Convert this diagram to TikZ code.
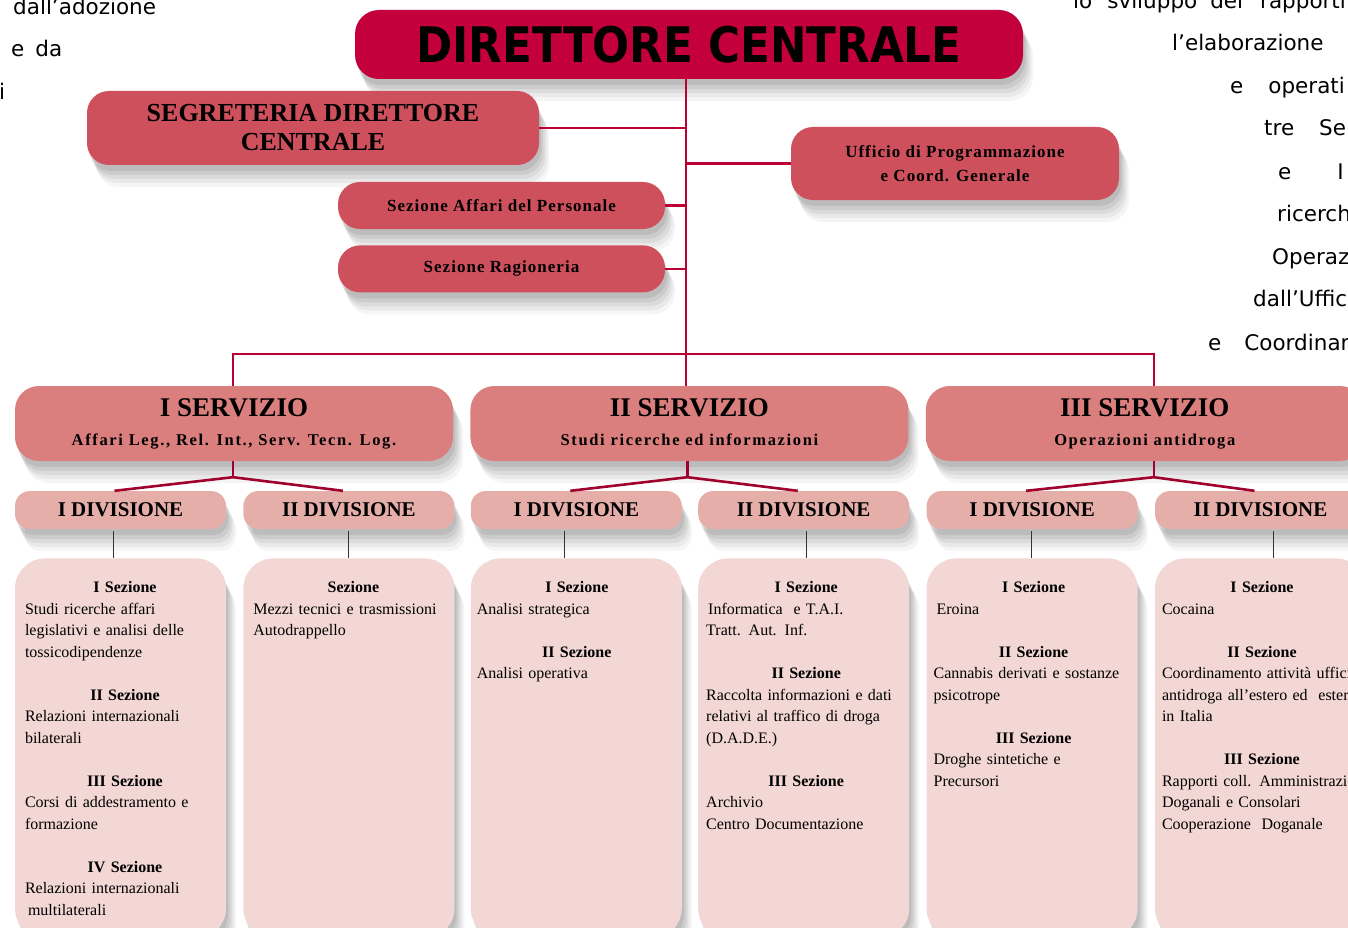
\documentclass[tikz,border=0pt]{standalone}
\usepackage{fontspec}
\setmainfont{Liberation Serif}
\newfontfamily\titlefont[FakeStretch=0.89]{DejaVu Sans}
\newfontfamily\pagefont{DejaVu Sans}
\newfontfamily\servsubfont[LetterSpace=10]{Liberation Serif}
\newfontfamily\staffsubfont[LetterSpace=6]{Liberation Serif}
\usetikzlibrary{positioning,shadows}
\definecolor{dcred}{HTML}{C4003C}
\definecolor{dcstaff}{HTML}{CD505C}
\definecolor{dcserv}{HTML}{DA7F7D}
\definecolor{dcdiv}{HTML}{E6AEA9}
\definecolor{dcsez}{HTML}{F2D7D4}
\definecolor{dcline}{HTML}{BC0034}

% section headings inside the lower boxes
\newcommand{\firsthead}[1]{{\centering\bfseries #1\par}}
\newcommand{\nexthead}[1]{\par\vspace{\baselineskip}{\centering\bfseries #1\par}}

\begin{document}
\begin{tikzpicture}[
        x=1pt, y=-1pt,
        boxshadow/.style={
            drop shadow={shadow xshift=2pt, shadow yshift=-6pt, fill=black, opacity=.07},
            drop shadow={shadow xshift=4pt, shadow yshift=-10pt, fill=black, opacity=.07},
            drop shadow={shadow xshift=6pt, shadow yshift=-14pt, fill=black, opacity=.06},
            drop shadow={shadow xshift=8pt, shadow yshift=-18pt, fill=black, opacity=.05},
            drop shadow={shadow xshift=10pt, shadow yshift=-22pt, fill=black, opacity=.04}},
        topbox/.style={fill=dcred, rounded corners=24pt, minimum width=668pt, minimum height=69pt, inner sep=0pt, boxshadow,
            font=\titlefont\bfseries\fontsize{49}{49}\selectfont},
        staffbox/.style={fill=dcstaff, rounded corners=22pt, inner sep=0pt, boxshadow, align=center},
        servbox/.style={fill=dcserv, rounded corners=24pt, minimum width=438pt, minimum height=75pt, inner sep=0pt, boxshadow,
            align=center, font=\bfseries\fontsize{27}{28.5}\selectfont},
        divbox/.style={fill=dcdiv, rounded corners=15pt, minimum width=211pt, minimum height=38pt, inner sep=0pt, boxshadow,
            font=\bfseries\fontsize{21}{21}\selectfont},
        sezbox/.style={fill=dcsez, rounded corners=30pt, minimum width=211pt, minimum height=380pt, inner sep=0pt, boxshadow},
        seztext/.style={anchor=north west, inner sep=0pt, text width=200pt, align=left, font=\fontsize{16}{21.5}\selectfont},
        pagetext/.style={anchor=base west, inner sep=0pt, font=\pagefont\fontsize{21.5}{21.5}\selectfont},
        trunk/.style={draw=dcline, line width=2.6pt},
        branch/.style={draw=dcline!85!black, line width=2.6pt},
        tick/.style={draw=black!80, line width=0.9pt}
    ]
        \useasboundingbox (0,0) rectangle (1348,928);
        \clip (0,0) rectangle (1348,928);

        % text of the page behind the chart
        \node[pagetext] (pl1) at (13,15) {dall’adozione};
        \node[pagetext] (pl2) at (11,57) {e\hspace{11pt}da};
        \node[pagetext] (pl3) at (-1,100) {i};
        \node[pagetext] (pr1) at (1073,9) {lo\hspace{15pt}sviluppo\hspace{13pt}dei\hspace{17pt}rapporti};
        \node[pagetext] (pr2) at (1172,51) {l’elaborazione};
        \node[pagetext] (pr3) at (1230,94) {e\hspace{25pt}operati};
        \node[pagetext] (pr4) at (1264,136) {tre\hspace{25pt}Se};
        \node[pagetext] (pr5) at (1278,179) {e\hspace{46pt}I};
        \node[pagetext] (pr6) at (1277,221) {ricerch};
        \node[pagetext] (pr7) at (1272,264) {Operaz};
        \node[pagetext] (pr8) at (1253,306) {dall’Uffic};
        \node[pagetext] (pr9) at (1208,350) {e\hspace{23pt}Coordinar};

        % direttore and staff
        \node[topbox] (dir) at (689,44.5) {DIRETTORE CENTRALE};
        \node[staffbox, minimum width=452pt, minimum height=74pt, font=\bfseries\fontsize{26}{29}\selectfont] (seg) at (313,128) {SEGRETERIA DIRETTORE\\CENTRALE};
        \node[staffbox, minimum width=328pt, minimum height=73pt, font=\staffsubfont\bfseries\fontsize{17}{24}\selectfont] (uff) at (955,163.5) {Ufficio di Programmazione\\e Coord. Generale};
        \node[staffbox, minimum width=327pt, minimum height=47pt, font=\staffsubfont\bfseries\fontsize{17}{17}\selectfont] (aff) at (501.5,205.5) {Sezione Affari del Personale};
        \node[staffbox, minimum width=327pt, minimum height=47pt, font=\staffsubfont\bfseries\fontsize{17}{17}\selectfont, below=16pt of aff] (rag) {Sezione Ragioneria};

        % servizi
        \node[servbox] (s1) at (234,423.5) {I SERVIZIO\strut\\{\servsubfont\fontsize{16.5}{16.5}\selectfont Affari Leg., Rel. Int., Serv. Tecn. Log.\strut}};
        \node[servbox, right=17pt of s1] (s2) {II SERVIZIO\strut\\{\servsubfont\fontsize{16.5}{16.5}\selectfont Studi ricerche ed informazioni\strut}};
        \node[servbox, right=17pt of s2] (s3) {III SERVIZIO\strut\\{\servsubfont\fontsize{16.5}{16.5}\selectfont Operazioni antidroga\strut}};

        % divisioni
        \node[divbox] (d1) at (120.5,510) {I DIVISIONE};
        \node[divbox, right=17pt of d1] (d2) {II DIVISIONE};
        \node[divbox, right=16pt of d2] (d3) {I DIVISIONE};
        \node[divbox, right=16pt of d3] (d4) {II DIVISIONE};
        \node[divbox, right=17pt of d4] (d5) {I DIVISIONE};
        \node[divbox, right=17pt of d5] (d6) {II DIVISIONE};

        % sezioni
        \node[sezbox, below=29pt of d1] (c1) {};
        \node[sezbox, below=29pt of d2] (c2) {};
        \node[sezbox, below=29pt of d3] (c3) {};
        \node[sezbox, below=29pt of d4] (c4) {};
        \node[sezbox, below=29pt of d5] (c5) {};
        \node[sezbox, below=29pt of d6] (c6) {};

        \node[seztext] (t1) at ([xshift=10pt, yshift=-23pt]c1.north west) {\firsthead{I Sezione}
            Studi ricerche affari\\legislativi e analisi delle\\tossicodipendenze
            \nexthead{II Sezione}
            Relazioni internazionali\\bilaterali
            \nexthead{III Sezione}
            Corsi di addestramento e\\formazione
            \nexthead{IV Sezione}
            Relazioni internazionali\\\hspace*{3pt}multilaterali};
        \node[seztext] (t2) at ([xshift=10pt, yshift=-23pt]c2.north west) {\firsthead{Sezione}
            \mbox{Mezzi tecnici e trasmissioni}\\Autodrappello};
        \node[seztext] (t3) at ([xshift=6pt, yshift=-23pt]c3.north west) {\firsthead{I Sezione}
            Analisi strategica
            \nexthead{II Sezione}
            Analisi operativa};
        \node[seztext] (t4) at ([xshift=8pt, yshift=-23pt]c4.north west) {\firsthead{I Sezione}
            \hspace*{2pt}Informatica\ \ e T.A.I.\\Tratt. Aut. Inf.
            \nexthead{II Sezione}
            \mbox{Raccolta informazioni e dati}\\relativi al traffico di droga\\(D.A.D.E.)
            \nexthead{III Sezione}
            Archivio\\Centro Documentazione};
        \node[seztext] (t5) at ([xshift=7pt, yshift=-23pt]c5.north west) {\firsthead{I Sezione}
            \hspace*{3pt}Eroina
            \nexthead{II Sezione}
            \mbox{Cannabis derivati e sostanze}\\psicotrope
            \nexthead{III Sezione}
            Droghe sintetiche e\\Precursori};
        \node[seztext] (t6) at ([xshift=7pt, yshift=-23pt]c6.north west) {\firsthead{I Sezione}
            Cocaina
            \nexthead{II Sezione}
            \mbox{Coordinamento attività uffici}\\\mbox{antidroga all’estero ed\ \ esteri}\\in Italia
            \nexthead{III Sezione}
            \mbox{Rapporti coll. Amministrazioni}\\Doganali e Consolari\\Cooperazione\ \ Doganale};

        % red lines from the direttore
        \coordinate (hub) at (686,354);
        \draw[trunk] (dir.south -| hub) -- (hub);
        \draw[trunk] (seg.east) -- (seg.east -| hub);
        \draw[trunk] (uff.west) -- (uff.west -| hub);
        \draw[trunk] (aff.east) -- (aff.east -| hub);
        \draw[trunk] (rag.east) -- (rag.east -| hub);
        \draw[trunk] ([xshift=-1pt]s1.north) |- ([xshift=9pt]s3.north |- hub) -- ([xshift=9pt]s3.north);
        \draw[trunk] (hub) -- (s2.north -| hub);

        % servizio to divisioni
        \foreach \s/\a/\b/\dx in {s1/d1/d2/-1, s2/d3/d4/-2, s3/d5/d6/9} {
            \coordinate (\s fork) at ([xshift=\dx pt, yshift=-16pt]\s.south);
            \draw[branch] ([xshift=\dx pt]\s.south) -- (\s fork);
            \draw[branch] ([xshift=-6pt]\a.north) -- (\s fork) -- ([xshift=-6pt]\b.north);
        }

        % divisioni to sezioni
        \foreach \d/\c/\dx in {d1/c1/-7, d2/c2/0, d3/c3/-12, d4/c4/3, d5/c5/-1, d6/c6/13}
            \draw[tick] ([xshift=\dx pt, yshift=-2pt]\d.south) -- ([xshift=\dx pt]\c.north);
    \end{tikzpicture}
\end{document}
